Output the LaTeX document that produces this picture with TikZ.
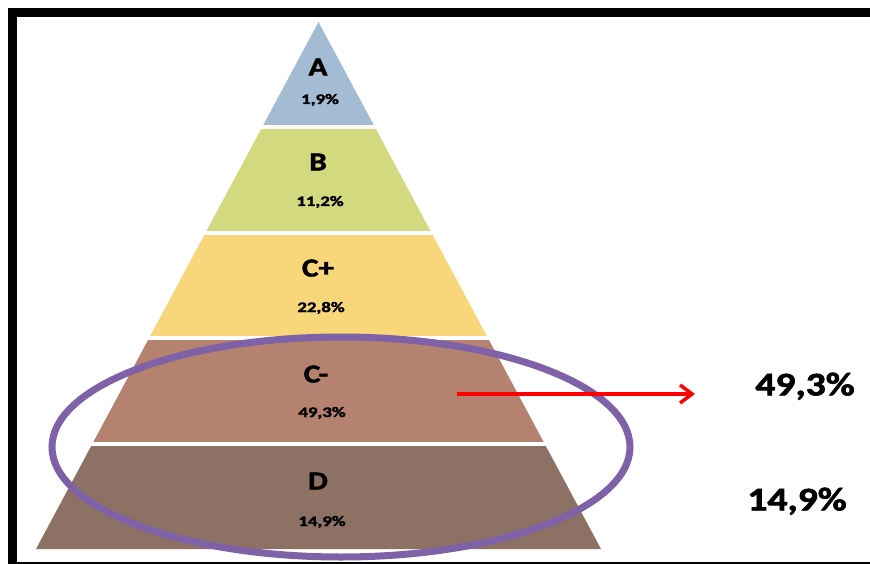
\documentclass[tikz,border=0pt]{standalone}
\usepackage{fontspec}
\setmainfont{Carlito}[BoldFeatures={FakeBold=1.8}]
\usetikzlibrary{arrows.meta}
\definecolor{cA}{HTML}{A3BCD4}
\definecolor{cB}{HTML}{D3D97F}
\definecolor{cCp}{HTML}{F8D77A}
\definecolor{cCm}{HTML}{B5826F}
\definecolor{cD}{HTML}{8C7164}
\definecolor{ringcol}{HTML}{7E61A6}
\newcommand{\hstretch}[2]{\scalebox{#1}[1]{#2}}
\begin{document}
\begin{tikzpicture}[x=1pt,y=-1pt,
  lbl/.style={font=\bfseries\fontsize{26}{26}\selectfont, inner sep=0pt, text depth=0pt},
  pct/.style={font=\bfseries\fontsize{14.5}{15}\selectfont, inner sep=0pt, text depth=0pt},
  big/.style={font=\bfseries\fontsize{33}{35}\selectfont, inner sep=0pt, text depth=0pt},
  gap/.style={white, line width=4pt},
  ring/.style={draw=ringcol, line width=7pt},
  arr/.style={red, line width=3.5pt, -{Straight Barb[length=12pt,width=18pt]}}]
\useasboundingbox (0,0) rectangle (870,564);
\fill[white] (0,0) rectangle (870,564);
% layers
\fill[cA]  (318.5,22) -- (375,127.4) -- (262,127.4) -- cycle;
\fill[cB]  (262,127.4) -- (375,127.4) -- (431.5,232.8) -- (205.5,232.8) -- cycle;
\fill[cCp] (205.5,232.8) -- (431.5,232.8) -- (488,338.2) -- (149,338.2) -- cycle;
\fill[cCm] (149,338.2) -- (488,338.2) -- (544.5,443.6) -- (92.5,443.6) -- cycle;
\fill[cD]  (92.5,443.6) -- (544.5,443.6) -- (601,549) -- (36,549) -- cycle;
\draw[gap] (250,127.4) -- (387,127.4);
\draw[gap] (195,232.8) -- (442,232.8);
\draw[gap] (140,338.2) -- (497,338.2);
\draw[gap] (85,443.6) -- (552,443.6);
% labels
\node[lbl] (lA) at (318,67) {\hstretch{1.2}{A}};
\node[pct] (pA) at (320,99) {\hstretch{1.3}{1,9\%}};
\node[lbl] (lB) at (318,162) {\hstretch{1.2}{B}};
\node[pct] (pB) at (320,201) {\hstretch{1.3}{11,2\%}};
\node[lbl] (lCp) at (318,268) {\hstretch{1.2}{C+}};
\node[pct] (pCp) at (321,307) {\hstretch{1.3}{22,8\%}};
\node[lbl] (lCm) at (316,374) {\hstretch{1.2}{C-}};
\node[pct] (pCm) at (322,412) {\hstretch{1.3}{49,3\%}};
\node[lbl] (lD) at (318,481) {\hstretch{1.2}{D}};
\node[pct] (pD) at (322,521) {\hstretch{1.3}{14,9\%}};
% ring
\draw[ring] (341,447) ellipse [x radius=289, y radius=110];
% arrow
\coordinate (aS) at (457,394);
\coordinate (aE) at (695,394);
\draw[arr] (aS) -- (aE);
\node[big] (r1) at (805,384) {\hstretch{1.2}{49,3\%}};
\node[big] (r2) at (797,499) {\hstretch{1.2}{14,9\%}};
% frame
\draw[line width=8.5pt] (12.5,12.5) rectangle (900,566);
\end{tikzpicture}
\end{document}
